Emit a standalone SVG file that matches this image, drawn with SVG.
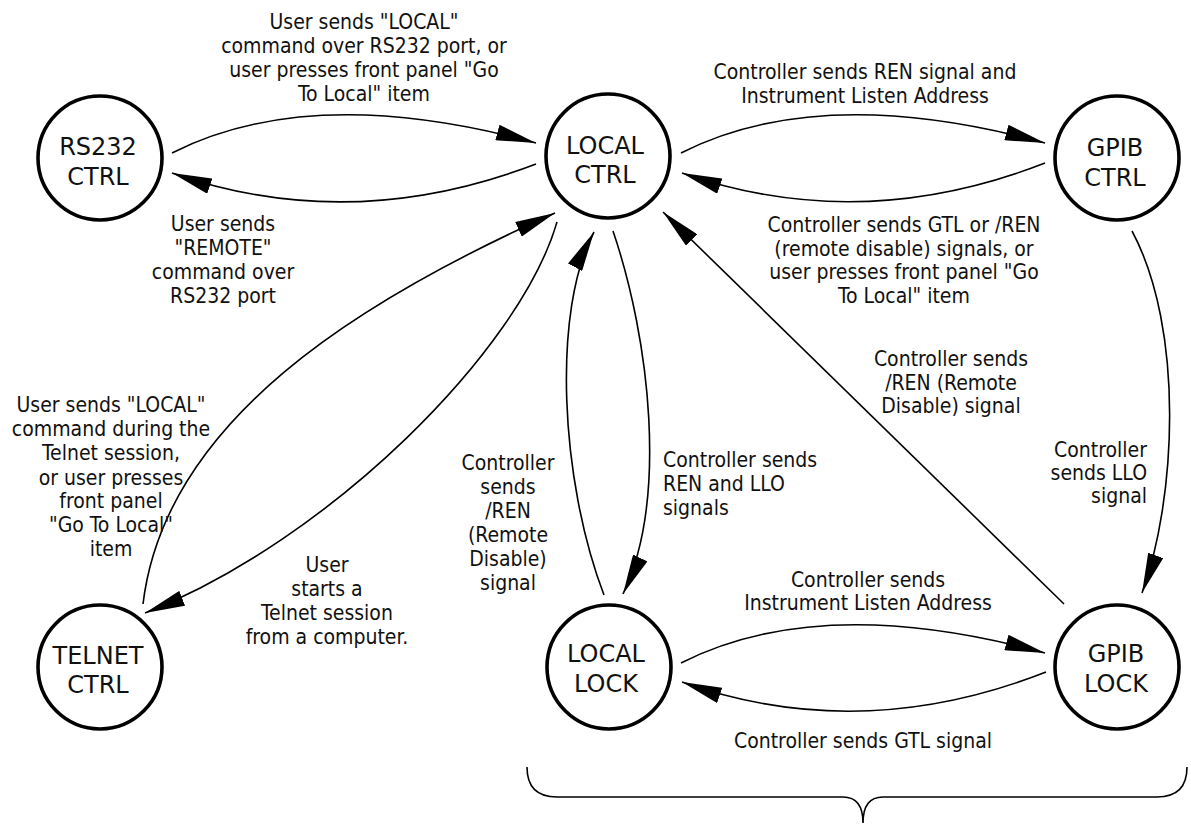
<svg xmlns="http://www.w3.org/2000/svg" width="1191" height="825" viewBox="0 0 1191 825">
<defs>
<marker id="ah" markerUnits="userSpaceOnUse" markerWidth="40" markerHeight="16" viewBox="0 0 40 16" refX="40" refY="8" orient="auto">
<path d="M0,0 L40,8 L0,16 Z" fill="#000"/>
</marker>
<style>
.node circle{fill:#fff;stroke:#000;stroke-width:3.6}
.node text{font-family:"DejaVu Sans",sans-serif;font-size:24px;text-anchor:middle;fill:#111}
.edge{fill:none;stroke:#000;stroke-width:1.6}
.arr{marker-end:url(#ah)}
.lbl{font-family:"DejaVu Sans Condensed","DejaVu Sans",sans-serif;font-stretch:condensed;font-size:21px;fill:#111}
.mid{text-anchor:middle}
.end{text-anchor:end}
.start{text-anchor:start}
</style>
</defs>
<rect width="1191" height="825" fill="#fff"/>
<g id="connectors">
<path class="edge arr" d="M172,153 Q312,82 536,143"/>
<path class="edge arr" d="M536,164 Q350,235 172,173"/>
<path class="edge arr" d="M681,153 Q821,82 1045,143"/>
<path class="edge arr" d="M1045,163 Q860,235 682,173"/>
<path class="edge arr" d="M681,663 Q821,592 1045,653"/>
<path class="edge arr" d="M1046,672 Q860,745 682,682"/>
<path class="edge arr" d="M143,604 C165,420 360,300 555,213"/>
<path class="edge arr" d="M557,222 C520,350 330,540 145,613"/>
<path class="edge arr" d="M604,595 C560,480 552,310 594,232"/>
<path class="edge arr" d="M613,231 C650,340 668,500 623,594"/>
<path class="edge arr" d="M1064,604 L663,212"/>
<path class="edge arr" d="M1132,231 C1185,330 1176,500 1142,593"/>
<path class="edge" d="M527,767 Q527,797 557,797 L843,797 Q863,797 863,823 Q863,797 883,797 L1157,797 Q1187,797 1187,767"/>
</g>
<g id="rs232-ctrl" class="node"><circle cx="100" cy="158" r="62"/><text x="98"><tspan x="98" y="155">RS232</tspan><tspan x="98" y="185">CTRL</tspan></text></g>
<g id="local-ctrl" class="node"><circle cx="608" cy="156" r="62"/><text><tspan x="605" y="154">LOCAL</tspan><tspan x="605" y="183">CTRL</tspan></text></g>
<g id="gpib-ctrl" class="node"><circle cx="1117" cy="158" r="62"/><text><tspan x="1115" y="156">GPIB</tspan><tspan x="1115" y="186">CTRL</tspan></text></g>
<g id="telnet-ctrl" class="node"><circle cx="100" cy="667" r="62"/><text><tspan x="98" y="664">TELNET</tspan><tspan x="98" y="693">CTRL</tspan></text></g>
<g id="local-lock" class="node"><circle cx="609" cy="667" r="62"/><text><tspan x="606" y="662">LOCAL</tspan><tspan x="606" y="692">LOCK</tspan></text></g>
<g id="gpib-lock" class="node"><circle cx="1117" cy="667" r="62"/><text><tspan x="1116" y="662">GPIB</tspan><tspan x="1116" y="692">LOCK</tspan></text></g>
<g id="labels">
<text class="lbl mid"><tspan x="364" y="29">User sends "LOCAL"</tspan><tspan x="364" y="53">command over RS232 port, or</tspan><tspan x="364" y="77">user presses front panel "Go</tspan><tspan x="364" y="101">To Local" item</tspan></text>
<text class="lbl mid"><tspan x="223" y="231">User sends</tspan><tspan x="223" y="255">"REMOTE"</tspan><tspan x="223" y="279">command over</tspan><tspan x="223" y="303">RS232 port</tspan></text>
<text class="lbl mid"><tspan x="865" y="79">Controller sends REN signal and</tspan><tspan x="865" y="103">Instrument Listen Address</tspan></text>
<text class="lbl mid"><tspan x="904" y="232">Controller sends GTL or /REN</tspan><tspan x="904" y="256">(remote disable) signals, or</tspan><tspan x="904" y="279">user presses front panel "Go</tspan><tspan x="904" y="303">To Local" item</tspan></text>
<text class="lbl mid"><tspan x="951" y="366">Controller sends</tspan><tspan x="951" y="390">/REN (Remote</tspan><tspan x="951" y="413">Disable) signal</tspan></text>
<text class="lbl end"><tspan x="1147" y="457">Controller</tspan><tspan x="1147" y="480">sends LLO</tspan><tspan x="1147" y="503">signal</tspan></text>
<text class="lbl start"><tspan x="663" y="467">Controller sends</tspan><tspan x="663" y="491">REN and LLO</tspan><tspan x="663" y="515">signals</tspan></text>
<text class="lbl mid"><tspan x="508" y="470">Controller</tspan><tspan x="508" y="494">sends</tspan><tspan x="508" y="518">/REN</tspan><tspan x="508" y="542">(Remote</tspan><tspan x="508" y="566">Disable)</tspan><tspan x="508" y="590">signal</tspan></text>
<text class="lbl mid"><tspan x="111" y="412">User sends "LOCAL"</tspan><tspan x="111" y="436">command during the</tspan><tspan x="111" y="460">Telnet session,</tspan><tspan x="111" y="485">or user presses</tspan><tspan x="111" y="508">front panel</tspan><tspan x="111" y="532">"Go To Local"</tspan><tspan x="111" y="556">item</tspan></text>
<text class="lbl mid"><tspan x="327" y="572">User</tspan><tspan x="327" y="596">starts a</tspan><tspan x="327" y="620">Telnet session</tspan><tspan x="327" y="644">from a computer.</tspan></text>
<text class="lbl mid"><tspan x="868" y="587">Controller sends</tspan><tspan x="868" y="610">Instrument Listen Address</tspan></text>
<text class="lbl mid"><tspan x="863" y="748">Controller sends GTL signal</tspan></text>
</g>
</svg>
